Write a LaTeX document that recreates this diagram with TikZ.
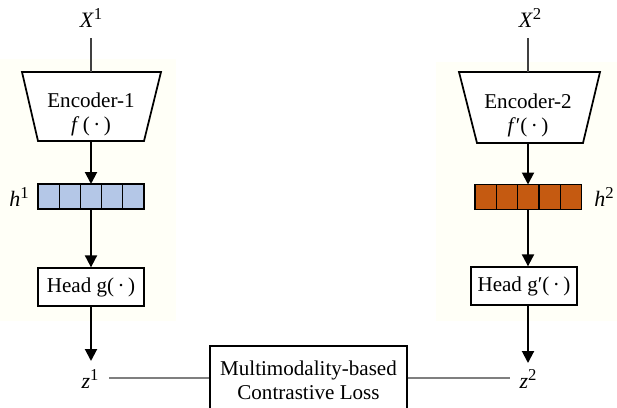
\documentclass[tikz,border=0pt]{standalone}
\usepackage{fontspec}
\setmainfont{Liberation Serif}
\usetikzlibrary{arrows.meta}
\definecolor{bgcream}{HTML}{FFFFF7}
\definecolor{hblue}{HTML}{B4C7E7}
\definecolor{horange}{HTML}{C55A11}
\definecolor{lgray}{HTML}{7F7F7F}
\newcommand\mysupr[1]{\raisebox{0.36em}{\fontsize{12.5}{12.5}\selectfont #1}}
\begin{document}
\begin{tikzpicture}[x=0.75pt,y=-0.75pt,
  every node/.style={font=\fontsize{15.8}{19}\selectfont},
  lbl/.style={inner sep=0pt,font=\fontsize{16.5}{19}\selectfont},
  enc/.style={draw=black,line width=1.3pt},
  cell/.style={draw=black,line width=1pt,minimum width=21.2*0.75pt,minimum height=25*0.75pt,inner sep=0pt,outer sep=0pt},
  headbox/.style={draw=black,line width=1pt,fill=white,minimum height=38*0.75pt,inner sep=2pt},
  flow/.style={line width=1.5pt,-{Triangle[length=9pt,width=9pt]}},
  thin/.style={line width=0.8pt,draw=black!75},
  grayline/.style={line width=1pt,draw=lgray}]
\clip (0,0) rectangle (617,407);
\fill[white] (0,0) rectangle (617,407);
\fill[bgcream] (0,59) rectangle (176,321);
\fill[bgcream] (436,62) rectangle (617,321);

% left branch
\node[lbl] (x1) at (91,18) {\textit{X}\mysupr{1}};
\coordinate (x1b) at (91,38);
\draw[enc,fill=white] (22,72) -- (161,72) -- (144,141) -- (38,141) -- cycle;
\coordinate (e1top) at (91,72);
\coordinate (e1bot) at (91,141);
\node[align=center,inner sep=0pt] (e1) at (91,114) {Encoder-1\\[-1pt]\textit{f}\,(\,·\,)};
\draw[thin] (x1b) -- (e1top);
\foreach \i in {0,...,4}{
  \node[cell,fill=hblue] (a\i) at (48.6+21.2*\i,196.5) {};
}
\node[lbl] (h1) at (19,197) {\textit{h}\mysupr{1}};
\node[headbox,minimum width=106*0.75pt] (g1) at (91,287) {Head g(\,·\,)};
\node[lbl] (z1) at (90,379) {\textit{z}\mysupr{1}};
\coordinate (z1t) at (91,361);
\draw[flow] (e1bot) -- (e1bot |- a2.north);
\draw[flow] (e1bot |- a2.south) -- (e1bot |- g1.north);
\draw[flow] (e1bot |- g1.south) -- (z1t);

% right branch
\node[lbl] (x2) at (530,18) {\textit{X}\mysupr{2}};
\coordinate (x2b) at (528,38);
\draw[enc,fill=white] (459,72) -- (600,72) -- (583,143) -- (477,143) -- cycle;
\coordinate (e2top) at (528,72);
\coordinate (e2bot) at (528,143);
\node[align=center,inner sep=0pt] (e2) at (528,115) {Encoder-2\\[-1pt]\textit{f}′(\,·\,)};
\draw[thin] (x2b) -- (e2top);
\foreach \i in {0,...,4}{
  \node[cell,fill=horange] (b\i) at (485.6+21.4*\i,197) {};
}
\node[lbl] (h2) at (604,197) {\textit{h}\mysupr{2}};
\node[headbox,minimum width=106*0.75pt] (g2) at (524,286) {Head g′(\,·\,)};
\node[lbl] (z2) at (528,379) {\textit{z}\mysupr{2}};
\coordinate (z2t) at (528,363);
\draw[flow] (e2bot) -- (e2bot |- b2.north);
\draw[flow] (e2bot |- b2.south) -- (e2bot |- g2.north);
\draw[flow] (e2bot |- g2.south) -- (z2t);

% loss
\node[draw=black,line width=1pt,fill=white,align=center,minimum width=197*0.75pt,minimum height=68*0.75pt,inner sep=0pt] (loss) at (308.5,380) {Multimodality-based\\[-1pt]Contrastive Loss};
\coordinate (z1r) at (109,378);
\coordinate (z2l) at (510,378);
\draw[grayline] (z1r) -- (z1r -| loss.west);
\draw[grayline] (z2l -| loss.east) -- (z2l);
\end{tikzpicture}
\end{document}
